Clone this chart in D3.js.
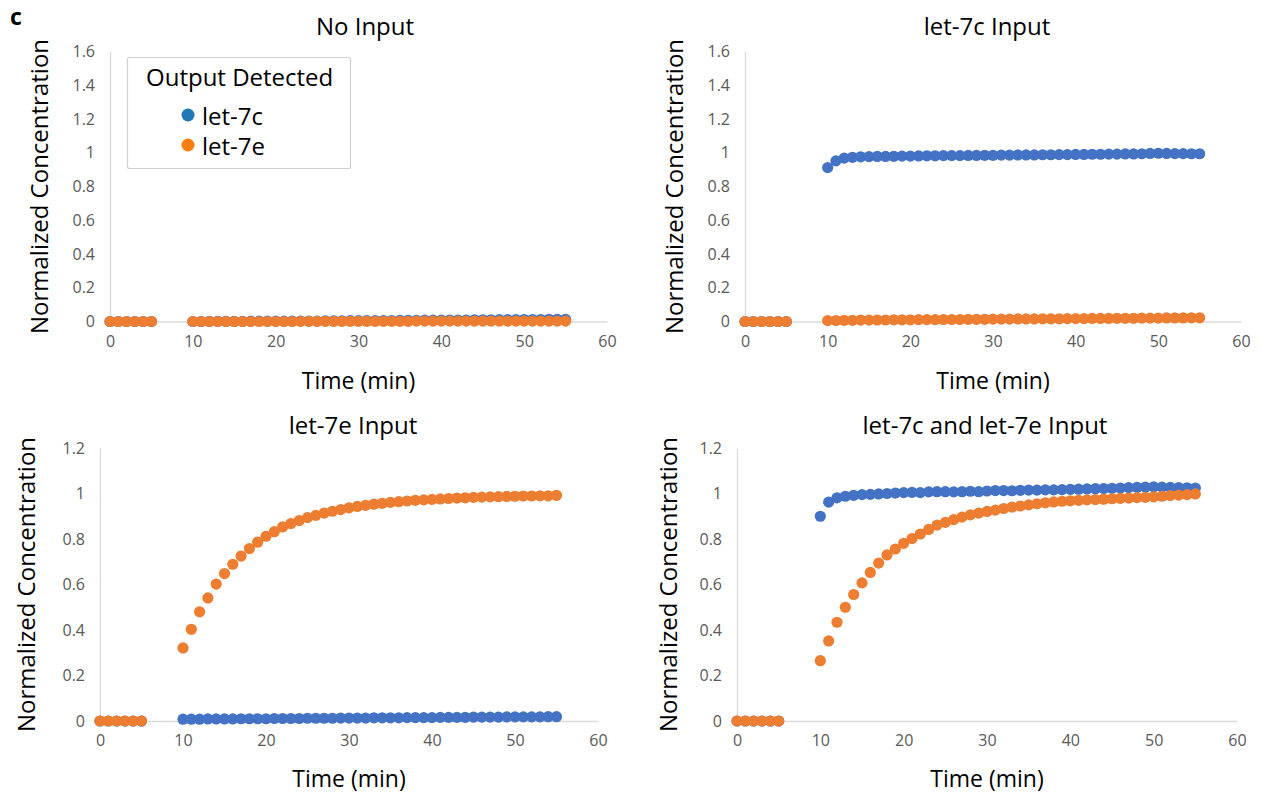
<!DOCTYPE html>
<html>
<head>
<meta charset="utf-8">
<script src="https://cdn.jsdelivr.net/npm/d3@7"></script>
<style>
  html, body { margin: 0; padding: 0; background: #fff; }
  svg { display: block; font-family: "Open Sans", "Segoe UI", sans-serif; }
</style>
</head>
<body>
<svg id="chart" width="1261" height="799"></svg>
<script>
// ---------------- DATA ----------------
const time = [0,1,2,3,4,5,
  10,11,12,13,14,15,16,17,18,19,
  20,21,22,23,24,25,26,27,28,29,
  30,31,32,33,34,35,36,37,38,39,
  40,41,42,43,44,45,46,47,48,49,
  50,51,52,53,54,55];

const seriesNames = ["let-7c", "let-7e"];
const panelTitles = ["No Input", "let-7c Input", "let-7e Input", "let-7c and let-7e Input"];
const xTicks = [0, 10, 20, 30, 40, 50, 60];
const yTicksTop = [0, 0.2, 0.4, 0.6, 0.8, 1, 1.2, 1.4, 1.6];
const yTicksBottom = [0, 0.2, 0.4, 0.6, 0.8, 1, 1.2];

// No Input
const noInput_7c = [0,0,0,0,0,0,
  0.000,0.000,0.001,0.001,0.001,0.001,0.001,0.002,0.002,0.002,
  0.002,0.002,0.003,0.003,0.003,0.003,0.004,0.004,0.004,0.005,
  0.005,0.005,0.006,0.006,0.006,0.007,0.007,0.007,0.008,0.008,
  0.008,0.009,0.009,0.009,0.010,0.010,0.010,0.011,0.011,0.011,
  0.012,0.012,0.012,0.013,0.013,0.013];
const noInput_7e = [0,0,0,0,0,0,
  0.000,0.000,0.000,0.000,0.000,0.000,0.000,0.000,0.000,0.000,
  0.000,0.000,0.000,0.001,0.001,0.001,0.001,0.001,0.001,0.001,
  0.001,0.001,0.001,0.001,0.001,0.001,0.001,0.002,0.002,0.002,
  0.002,0.002,0.002,0.002,0.002,0.002,0.002,0.002,0.002,0.002,
  0.002,0.002,0.002,0.002,0.002,0.002];

// let-7c Input
const in7c_7c = [0,0,0,0,0,0,
  0.912,0.952,0.968,0.973,0.976,0.977,0.978,0.978,0.979,0.980,
  0.980,0.981,0.982,0.982,0.983,0.983,0.983,0.984,0.984,0.985,
  0.985,0.986,0.986,0.987,0.987,0.987,0.988,0.988,0.989,0.989,
  0.990,0.990,0.991,0.991,0.992,0.992,0.993,0.993,0.994,0.996,
  0.997,0.996,0.995,0.995,0.994,0.994];
const in7c_7e = [0,0,0,0,0,0,
  0.005,0.006,0.007,0.007,0.008,0.008,0.009,0.009,0.010,0.010,
  0.010,0.011,0.011,0.011,0.012,0.012,0.012,0.013,0.013,0.013,
  0.014,0.014,0.014,0.015,0.015,0.015,0.016,0.016,0.016,0.017,
  0.017,0.017,0.018,0.018,0.018,0.019,0.019,0.019,0.020,0.020,
  0.020,0.021,0.021,0.021,0.022,0.022];

// let-7e Input
const in7e_7c = [0,0,0,0,0,0,
  0.008,0.008,0.008,0.009,0.009,0.009,0.009,0.010,0.010,0.010,
  0.010,0.011,0.011,0.011,0.011,0.012,0.012,0.012,0.012,0.013,
  0.013,0.013,0.013,0.014,0.014,0.014,0.014,0.015,0.015,0.015,
  0.015,0.016,0.016,0.016,0.016,0.017,0.017,0.017,0.017,0.018,
  0.018,0.018,0.018,0.018,0.019,0.019];
const in7e_7e = [0,0,0,0,0,0,
  0.321,0.403,0.480,0.541,0.602,0.648,0.689,0.725,0.758,0.786,
  0.812,0.832,0.853,0.868,0.881,0.894,0.904,0.914,0.922,0.929,
  0.937,0.943,0.948,0.953,0.957,0.961,0.964,0.967,0.970,0.972,
  0.974,0.976,0.978,0.980,0.981,0.983,0.984,0.985,0.986,0.987,
  0.988,0.989,0.989,0.990,0.990,0.992];

// let-7c and let-7e Input
const inBoth_7c = [0,0,0,0,0,0,
  0.900,0.962,0.981,0.988,0.992,0.995,0.996,0.998,1.000,1.002,
  1.004,1.005,1.004,1.007,1.008,1.008,1.007,1.008,1.010,1.008,
  1.011,1.013,1.013,1.012,1.014,1.015,1.015,1.016,1.016,1.017,
  1.018,1.019,1.020,1.021,1.022,1.023,1.024,1.026,1.027,1.028,
  1.029,1.028,1.027,1.026,1.025,1.024];
const inBoth_7e = [0,0,0,0,0,0,
  0.265,0.352,0.434,0.500,0.556,0.607,0.653,0.694,0.730,0.756,
  0.781,0.802,0.822,0.842,0.861,0.873,0.885,0.896,0.906,0.914,
  0.921,0.927,0.934,0.940,0.945,0.950,0.955,0.959,0.963,0.966,
  0.968,0.970,0.972,0.973,0.975,0.977,0.979,0.980,0.982,0.983,
  0.985,0.988,0.991,0.993,0.995,0.998];

// ---------------- LAYOUT ----------------
const dotColors = ["#4472C4", "#ED7D31"];
const legendColors = ["#1f77b4", "#ff7f0e"];
const panels = [
  { title: panelTitles[0], c: noInput_7c, e: noInput_7e, yMax: 1.6, yTicks: yTicksTop,
    x0: 110, x1: 607, y0: 321.5, y1: 51.5, titleX: 365, titleY: 25, yLabX: 38, xLabY: 380 },
  { title: panelTitles[1], c: in7c_7c, e: in7c_7e, yMax: 1.6, yTicks: yTicksTop,
    x0: 745, x1: 1241, y0: 321.5, y1: 51.5, titleX: 987, titleY: 25, yLabX: 673, xLabY: 380 },
  { title: panelTitles[2], c: in7e_7c, e: in7e_7e, yMax: 1.2, yTicks: yTicksBottom,
    x0: 100, x1: 598, y0: 721, y1: 448, titleX: 353, titleY: 424, yLabX: 25, xLabY: 778 },
  { title: panelTitles[3], c: inBoth_7c, e: inBoth_7e, yMax: 1.2, yTicks: yTicksBottom,
    x0: 737, x1: 1237, y0: 721, y1: 448, titleX: 985, titleY: 424, yLabX: 667, xLabY: 778 }
];

const svg = d3.select("#chart");

svg.append("text").attr("x", 10).attr("y", 25)
  .attr("font-size", 23).attr("font-weight", "bold").attr("fill", "#000").text("c");

panels.forEach(p => {
  const x = d3.scaleLinear().domain([0, 60]).range([p.x0, p.x1]);
  const y = d3.scaleLinear().domain([0, p.yMax]).range([p.y0, p.y1]);
  const g = svg.append("g");

  // axes
  const xa = g.append("g").attr("transform", `translate(0,${p.y0})`)
    .call(d3.axisBottom(x).tickValues(xTicks).tickSize(0).tickPadding(14).tickFormat(d3.format("d")));
  const ya = g.append("g").attr("transform", `translate(${p.x0},0)`)
    .call(d3.axisLeft(y).tickValues(p.yTicks).tickSize(0).tickPadding(15).tickFormat(d => d3.format("~g")(d)));
  [xa, ya].forEach(a => {
    a.select(".domain").attr("stroke", "#d9d9d9").attr("stroke-width", 1.3);
    a.selectAll("text").attr("fill", "#595959").attr("font-size", 16)
      .attr("font-family", "'Open Sans', sans-serif");
  });

  // dots: let-7c first, let-7e on top
  [p.c, p.e].forEach((vals, si) => {
    g.append("g").selectAll("circle").data(time.map((t, i) => [t, vals[i]]))
      .join("circle")
      .attr("cx", d => x(d[0])).attr("cy", d => y(d[1])).attr("r", 5.6)
      .attr("fill", dotColors[si]);
  });

  // titles
  g.append("text").attr("x", p.titleX).attr("y", p.titleY)
    .attr("text-anchor", "middle").attr("dominant-baseline", "central")
    .attr("font-size", 24).attr("fill", "#000").text(p.title);
  g.append("text").attr("x", (p.x0 + p.x1) / 2).attr("y", p.xLabY)
    .attr("text-anchor", "middle").attr("dominant-baseline", "central")
    .attr("font-size", 23).attr("fill", "#000").text("Time (min)");
  g.append("text")
    .attr("transform", `translate(${p.yLabX},${(p.y0 + p.y1) / 2}) rotate(-90)`)
    .attr("text-anchor", "middle").attr("dominant-baseline", "central")
    .attr("font-size", 24).attr("fill", "#000").text("Normalized Concentration");
});

// legend
const lg = svg.append("g");
lg.append("rect").attr("x", 127.5).attr("y", 57.5).attr("width", 223).attr("height", 111)
  .attr("rx", 2).attr("fill", "#fff").attr("stroke", "#d0d0d0").attr("stroke-width", 1.2);
lg.append("text").attr("x", 146).attr("y", 76).attr("dominant-baseline", "central")
  .attr("font-size", 24).attr("fill", "#000").text("Output Detected");
seriesNames.forEach((n, i) => {
  lg.append("circle").attr("cx", 188).attr("cy", 115 + i * 30).attr("r", 6.5).attr("fill", legendColors[i]);
  lg.append("text").attr("x", 202).attr("y", 115 + i * 30).attr("dominant-baseline", "central")
    .attr("font-size", 24).attr("fill", "#000").text(n);
});
</script>
</body>
</html>
